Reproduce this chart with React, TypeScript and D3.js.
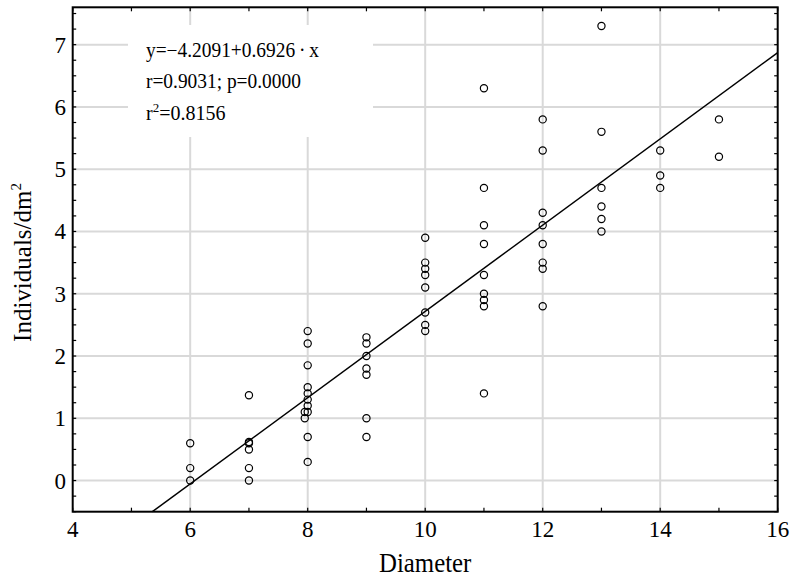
import React from 'react';
import * as d3 from 'd3';

// Diameter / individuals per dm2 pairs
const diameters = [
  6, 6, 6,
  7, 7, 7, 7, 7, 7,
  8, 8, 8, 8, 8, 8, 8, 8, 7.95, 7.95, 8, 8,
  9, 9, 9, 9, 9, 9, 9,
  10, 10, 10, 10, 10, 10, 10, 10,
  11, 11, 11, 11, 11, 11, 11, 11, 11,
  12, 12, 12, 12, 12, 12, 12, 12,
  13, 13, 13, 13, 13, 13,
  14, 14, 14,
  15, 15,
];
const individuals = [
  0.6, 0.2, 0.0,
  1.37, 0.62, 0.6, 0.5, 0.2, 0.0,
  2.4, 2.2, 1.85, 1.5, 1.4, 1.3, 1.2, 1.1, 1.1, 1.0, 0.7, 0.3,
  2.3, 2.2, 2.0, 1.8, 1.7, 1.0, 0.7,
  3.9, 3.5, 3.4, 3.3, 3.1, 2.7, 2.5, 2.4,
  6.3, 4.7, 4.1, 3.8, 3.3, 3.0, 2.9, 2.8, 1.4,
  5.8, 5.3, 4.3, 4.1, 3.8, 3.5, 3.4, 2.8,
  7.3, 5.6, 4.7, 4.4, 4.2, 4.0,
  5.3, 4.9, 4.7,
  5.8, 5.2,
];
const intercept = -4.2091;
const slope = 0.6926;
const statLines = ['y=\u22124.2091+0.6926\u2009\u00b7\u2009x', 'r=0.9031; p=0.0000'];
const r2Label = '=0.8156';
const xTicks = [4, 6, 8, 10, 12, 14, 16];
const yTicks = [0, 1, 2, 3, 4, 5, 6, 7];

const W = 793;
const H = 579;
const font = '"Liberation Serif", "Times New Roman", serif';

export default function App() {
  const left = 72.7, right = 777.7, top = 7.3, bottom = 511.7;
  const x = d3.scaleLinear().domain([4, 16]).range([left, right]);
  const y = d3.scaleLinear().domain([-0.5, 7.6]).range([bottom, top]);

  const xMinor = d3.range(4, 16.01, 1);
  const yMinor = d3.range(-0.5, 7.6, 0.25);

  const xa = d3.max([4, (y.domain()[0] - intercept) / slope]) as number;
  const line = d3.line<number>().x((v) => x(v)).y((v) => y(intercept + slope * v));

  return (
    <svg width={W} height={H} style={{ position: 'absolute', left: 0, top: 0, background: '#fff' }}>
      <rect x={0} y={0} width={W} height={H} fill="#fff" />
      {/* grid */}
      {xTicks.slice(1, -1).map((t) => (
        <line key={'gx' + t} x1={x(t)} x2={x(t)} y1={top} y2={bottom} stroke="#d9d9d9" strokeWidth={2} />
      ))}
      {yTicks.map((t) => (
        <line key={'gy' + t} x1={left} x2={right} y1={y(t)} y2={y(t)} stroke="#d9d9d9" strokeWidth={2} />
      ))}
      {/* stats box */}
      <rect x={128} y={25} width={245} height={112} fill="#fff" />
      <g fontFamily={font} fontSize={20} fill="#000">
        {statLines.map((s, i) => (
          <text key={s} x={146} y={57 + i * 31.5} transform="translate(146,0) scale(0.97,1) translate(-146,0)">{s}</text>
        ))}
        <text x={146} y={120}>
          r<tspan fontSize={13} dy={-8}>2</tspan>
          <tspan dy={8}>{r2Label}</tspan>
        </text>
      </g>
      {/* points */}
      {diameters.map((d, i) => (
        <circle key={i} cx={x(d)} cy={y(individuals[i])} r={3.6} fill="none" stroke="#000" strokeWidth={1.2} />
      ))}
      {/* regression line */}
      <path d={line([xa, 16]) || ''} fill="none" stroke="#000" strokeWidth={1.5} />
      {/* frame */}
      <rect x={left} y={top} width={right - left} height={bottom - top} fill="none" stroke="#000" strokeWidth={2} />
      {/* minor ticks */}
      {yMinor.map((t) => (
        <g key={'ty' + t}>
          <line x1={left} x2={left + 3.5} y1={y(t)} y2={y(t)} stroke="#000" strokeWidth={1.2} />
          <line x1={right} x2={right - 3.5} y1={y(t)} y2={y(t)} stroke="#000" strokeWidth={1.2} />
        </g>
      ))}
      {xMinor.map((t) => (
        <g key={'tx' + t}>
          <line x1={x(t)} x2={x(t)} y1={top} y2={top + 4} stroke="#000" strokeWidth={1.2} />
          <line x1={x(t)} x2={x(t)} y1={bottom} y2={bottom - 4} stroke="#000" strokeWidth={1.2} />
        </g>
      ))}
      {/* tick labels */}
      <g fontFamily={font} fontSize={23} fill="#000">
        {yTicks.map((t) => (
          <text key={'ly' + t} x={66} y={y(t) + 8} textAnchor="end">{t}</text>
        ))}
        {xTicks.map((t) => (
          <text key={'lx' + t} x={x(t)} y={537} textAnchor="middle">{t}</text>
        ))}
      </g>
      {/* axis titles */}
      <text transform={`translate(${x(10)},572) scale(0.92,1)`} textAnchor="middle" fontFamily={font} fontSize={27}>Diameter</text>
      <text transform={`translate(31,${(top + bottom) / 2 + 3}) rotate(-90)`} textAnchor="middle" fontFamily={font} fontSize={25}>
        Individuals/dm<tspan fontSize={15} dy={-10}>2</tspan>
      </text>
    </svg>
  );
}
